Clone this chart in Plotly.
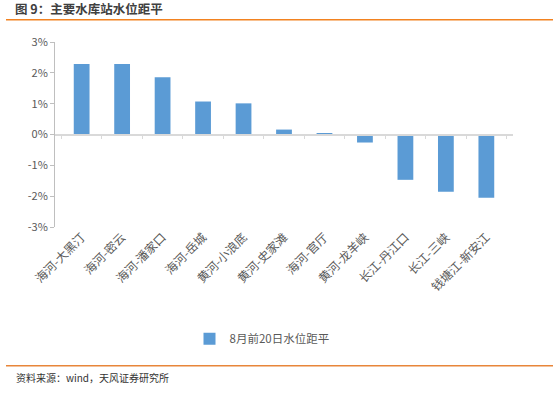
import plotly.graph_objects as go

categories = ["海河-大黑汀", "海河-密云", "海河-潘家口", "海河-岳城", "黄河-小浪底",
              "黄河-史家滩", "海河-官厅", "黄河-龙羊峡", "长江-丹江口", "长江-三峡", "钱塘江-新安江"]
values = [0.0229, 0.0229, 0.0186, 0.0107, 0.0101, 0.0016, 0.0003, -0.0026, -0.0147, -0.0186, -0.0205]
series_name = "8月前20日水位距平"
ytick_vals = [-0.03, -0.02, -0.01, 0, 0.01, 0.02, 0.03]
ytick_text = ["-3%", "-2%", "-1%", "0%", "1%", "2%", "3%"]

W, H = 553, 397
L, R, T, B = 55, 513, 42.3, 226.7
pw, ph = R - L, B - T

def px(x):
    return (x - L) / pw

def py(y):
    return (B - y) / ph

FONT = "Noto Sans CJK SC"
fig = go.Figure()
fig.add_trace(go.Bar(x=categories, y=values, name=series_name,
                     marker=dict(color="#5B9BD5", line=dict(width=0)),
                     showlegend=True))
fig.add_trace(go.Scatter(x=categories, y=[None] * len(categories), xaxis="x2",
                         showlegend=False, hoverinfo="skip", mode="markers"))

fig.update_layout(
    width=W, height=H,
    margin=dict(l=L, r=W - R, t=T, b=H - B),
    paper_bgcolor="white", plot_bgcolor="white",
    font=dict(family=FONT, color="#595959", size=11),
    bargap=0.61,
    title=dict(text="<b>图 9：主要水库站水位距平</b>", x=15 / W, y=1 - 10 / H,
               xref="container", yref="container", xanchor="left", yanchor="middle",
               font=dict(family=FONT, size=12.5, color="#404040")),
    xaxis=dict(type="category", showline=False, showgrid=False, zeroline=False,
               ticks="", tickangle=-45, tickfont=dict(size=12, color="#595959")),
    xaxis2=dict(type="category", overlaying="x", anchor="free", position=0.5,
                matches="x", showline=True, linecolor="#d9d9d9", linewidth=1.5,
                ticks="outside", tickson="boundaries", ticklen=4, tickcolor="#d9d9d9",
                tickwidth=1, showticklabels=False, showgrid=False, zeroline=False),
    yaxis=dict(range=[-0.03, 0.03], tickvals=ytick_vals, ticktext=ytick_text,
               showline=True, linecolor="#bfbfbf", linewidth=1, ticks="outside",
               ticklen=4, tickcolor="#bfbfbf", showgrid=False, zeroline=False,
               tickfont=dict(size=11, color="#595959")),
    legend=dict(orientation="h", x=px(262), y=py(338), xanchor="center", yanchor="middle",
                font=dict(size=11.5, color="#595959"), itemwidth=30),
    shapes=[
        dict(type="line", xref="paper", yref="paper", x0=px(6), x1=px(553), y0=py(20), y1=py(20),
             line=dict(color="#F28220", width=1.5)),
        dict(type="line", xref="paper", yref="paper", x0=px(6), x1=px(553), y0=py(365), y1=py(365),
             line=dict(color="#E8863A", width=1.5)),
    ],
    annotations=[
        dict(text="资料来源：wind，天风证券研究所", xref="paper", yref="paper",
             x=px(14), y=py(377), xanchor="left", yanchor="middle", showarrow=False,
             font=dict(family=FONT, size=10, color="#333333")),
    ],
)

fig.write_html("out.html", config={"displayModeBar": False},
               post_script="document.body.style.margin='0';document.body.style.padding='0';")
